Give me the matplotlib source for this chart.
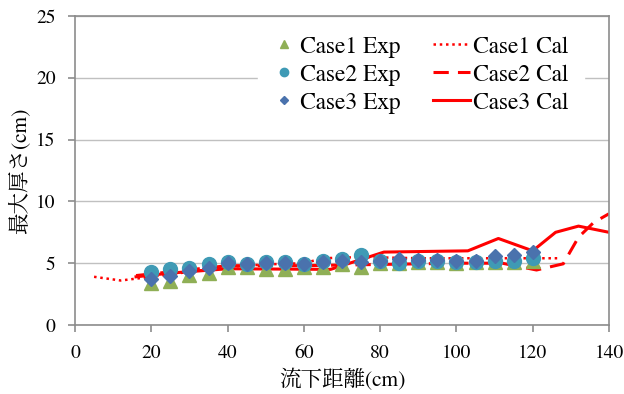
import matplotlib
matplotlib.use("Agg")
import matplotlib.pyplot as plt

# experimental points
exp_x = [20, 25, 30, 35, 40, 45, 50, 55, 60, 65, 70, 75, 80, 85, 90, 95, 100, 105, 110, 115, 120]
case1_exp = [3.4, 3.6, 4.05, 4.2, 4.7, 4.7, 4.5, 4.5, 4.7, 4.7, 4.9, 4.7, 5.0, 5.0, 5.1, 5.1, 5.0, 5.1, 5.1, 5.1, 5.2]
case2_exp = [4.3, 4.5, 4.6, 4.9, 5.1, 4.9, 5.1, 5.1, 4.9, 5.15, 5.3, 5.7, 5.2, 5.0, 5.2, 5.2, 5.1, 5.1, 5.2, 5.2, 5.4]
case3_exp = [3.7, 3.95, 4.35, 4.6, 5.0, 4.9, 5.0, 5.0, 4.9, 5.1, 5.2, 5.1, 5.2, 5.3, 5.25, 5.25, 5.2, 5.2, 5.6, 5.7, 5.9]

# calculated lines
cal1_x = [5, 12, 20, 30, 40, 50, 60, 65, 75, 90, 105, 115, 127]
cal1_y = [3.9, 3.6, 3.9, 4.3, 4.7, 4.9, 5.0, 5.4, 5.5, 5.4, 5.4, 5.4, 5.4]
cal2_x = [16, 25, 40, 60, 80, 100, 112, 121, 128, 132, 136, 140]
cal2_y = [4.0, 4.3, 4.8, 4.8, 4.9, 5.0, 5.0, 4.45, 4.95, 7.1, 8.3, 9.0]
cal3_x = [16, 25, 40, 67, 81, 103, 111, 120, 126, 132, 140]
cal3_y = [3.9, 4.2, 4.55, 4.5, 5.9, 6.0, 7.0, 6.0, 7.5, 8.0, 7.5]

plt.rcParams["font.family"] = ["FreeSerif", "Noto Serif CJK JP", "DejaVu Sans"]
grey = "#8c8c8c"

fig = plt.figure(figsize=(6.24, 3.94), dpi=100)
ax = fig.add_axes([75 / 624, 69 / 394, 534 / 624, 309 / 394])

ax.set_xlim(0, 140)
ax.set_ylim(0, 25)
ax.set_xticks(range(0, 141, 20))
ax.set_yticks(range(0, 26, 5))
ax.yaxis.grid(True, color="#c0c0c0", lw=1)
ax.set_axisbelow(True)
for s in ax.spines.values():
    s.set_color(grey)
    s.set_linewidth(1.2)
ax.tick_params(colors=grey, labelcolor="black", length=5, width=1.2, labelsize=14)
ax.tick_params(axis="x", pad=9)
ax.tick_params(axis="y", pad=9)

# markers
m1, = ax.plot(exp_x, case1_exp, "^", color="#8faf56", ms=9.5, ls="none", zorder=3)
m2, = ax.plot(exp_x, case2_exp, "o", color="#3f9ab5", ms=10, ls="none", zorder=4)
m3, = ax.plot(exp_x, case3_exp, "D", color="#4a72ad", ms=7.5, ls="none", zorder=5)

# lines
l1, = ax.plot(cal1_x, cal1_y, color="red", lw=1.8, ls=(0, (1, 1.5)), zorder=2)
l2, = ax.plot(cal2_x, cal2_y, color="red", lw=2.2, ls=(0, (5, 3)), zorder=2)
l3, = ax.plot(cal3_x, cal3_y, color="red", lw=2.2, zorder=2)

ax.set_xlabel("流下距離(cm)", fontsize=15.5, labelpad=5)
ax.set_ylabel("最大厚さ(cm)", fontsize=15.5, labelpad=4)

fig.legend([m1, m2, m3], ["Case1 Exp", "Case2 Exp", "Case3 Exp"],
           loc="center left", bbox_to_anchor=(258 / 624, 0.81),
           fontsize=17, markerscale=0.6,
           handlelength=0.8, handletextpad=0.3, labelspacing=0.27,
           borderpad=0.7, borderaxespad=0, frameon=True, fancybox=False,
           edgecolor="white", facecolor="white", framealpha=1)
fig.legend([l1, l2, l3], ["Case1 Cal", "Case2 Cal", "Case3 Cal"],
           loc="center left", bbox_to_anchor=(416 / 624, 0.81),
           fontsize=17,
           handlelength=1.6, handletextpad=0.1, labelspacing=0.27,
           borderpad=0.7, borderaxespad=0, frameon=True, fancybox=False,
           edgecolor="white", facecolor="white", framealpha=1)

plt.savefig("out.png", dpi=100)
